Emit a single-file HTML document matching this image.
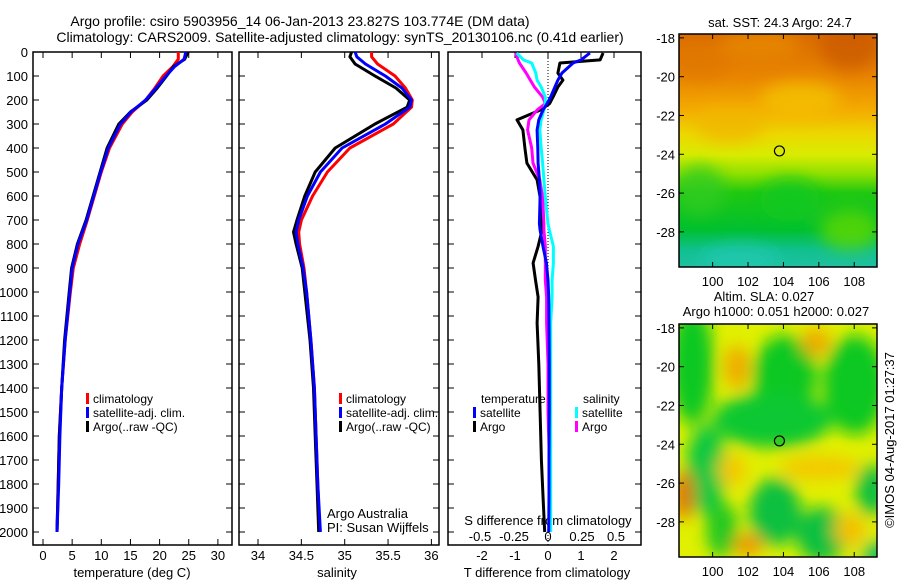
<!DOCTYPE html>
<html><head><meta charset="utf-8"><style>
html,body{margin:0;padding:0;background:#fff;}
svg{display:block;font-family:"Liberation Sans",sans-serif;}
text{fill:#000;}
</style></head><body>
<svg id="fig" width="900" height="580" viewBox="0 0 900 580" xmlns="http://www.w3.org/2000/svg">
<defs>
<filter id="blur" x="-50%" y="-50%" width="200%" height="200%"><feGaussianBlur stdDeviation="8"/></filter>
<clipPath id="clipTop"><rect x="679" y="34" width="198" height="233"/></clipPath>
<clipPath id="clipBot"><rect x="679" y="324" width="198" height="233"/></clipPath>
<linearGradient id="sstGrad" x1="0" y1="0" x2="0" y2="1">
<stop offset="0" stop-color="#d86a00"/><stop offset="0.18" stop-color="#e88400"/><stop offset="0.33" stop-color="#f4ac00"/>
<stop offset="0.43" stop-color="#ecd800"/><stop offset="0.52" stop-color="#d8ec00"/><stop offset="0.6" stop-color="#90e000"/>
<stop offset="0.68" stop-color="#20c810"/><stop offset="0.84" stop-color="#00c030"/><stop offset="0.93" stop-color="#10c090"/><stop offset="1" stop-color="#20c0a0"/>
</linearGradient>
</defs>
<text x="300" y="26" font-size="14" text-anchor="middle">Argo profile: csiro 5903956_14 06-Jan-2013 23.827S 103.774E (DM data)</text>
<text x="340" y="42" font-size="14" text-anchor="middle">Climatology: CARS2009. Satellite-adjusted climatology: synTS_20130106.nc (0.41d earlier)</text>
<g id="g"></g>
</svg>
<script>
// ---- data ----
const depthT = [0,30,60,100,150,200,250,300,400,500,600,700,800,900,1000,1200,1400,1600,1800,2000];
const tempClim = [23.2,23.2,22.3,20.6,19.2,17.6,15.3,13.6,11.4,10.0,8.8,7.6,6.3,5.2,4.7,3.8,3.2,2.8,2.6,2.4];
const tempSat  = [24.5,24.2,22.6,21.1,19.4,17.6,15.1,13.3,11.2,9.9,8.7,7.5,6.0,5.0,4.6,3.8,3.2,2.9,2.7,2.4];
const tempArgo = [24.9,24.3,22.4,21.2,19.6,17.8,15.0,13.0,11.0,9.8,8.6,7.4,5.9,4.9,4.5,3.7,3.2,2.8,2.6,2.4];
const depthS = [0,20,50,100,150,200,230,300,400,500,600,700,750,800,900,1000,1200,1400,1600,1800,2000];
const salClim = [35.31,35.31,35.38,35.58,35.70,35.78,35.77,35.56,35.06,34.80,34.63,34.50,34.47,34.48,34.53,34.56,34.61,34.65,34.67,34.69,34.71];
const salSat  = [35.12,35.14,35.24,35.47,35.66,35.77,35.75,35.47,34.97,34.72,34.57,34.47,34.44,34.46,34.52,34.56,34.61,34.65,34.67,34.69,34.72];
const salArgo = [35.08,35.06,35.12,35.35,35.59,35.75,35.72,35.35,34.89,34.66,34.54,34.45,34.41,34.44,34.51,34.54,34.60,34.64,34.66,34.68,34.70];
const depthD = [4,33,46,88,117,146,188,215,242,283,325,400,463,533,604,715,742,810,879,950,1021,1129,1300,1500,1700,1850,2000];
const dTArgo = [1.67,1.58,0.36,0.30,0.45,0.30,0.15,0.05,-0.24,-0.94,-0.76,-0.70,-0.64,-0.33,-0.24,-0.20,-0.18,-0.30,-0.45,-0.38,-0.30,-0.33,-0.28,-0.24,-0.20,-0.15,-0.10];
const dTSat  = [1.27,1.00,0.76,0.42,0.30,0.21,0.08,-0.03,-0.15,-0.28,-0.33,-0.31,-0.30,-0.26,-0.24,-0.26,-0.24,-0.15,-0.05,0.00,0.02,0.03,0.04,0.04,0.03,0.03,0.02];
const dSSat  = [-0.23,-0.18,-0.12,-0.09,-0.08,-0.05,-0.02,-0.02,-0.03,-0.05,-0.06,-0.05,-0.04,-0.03,-0.02,0.00,0.01,0.04,0.04,0.03,0.03,0.02,0.02,0.02,0.02,0.02,0.02];
const dSArgo = [-0.24,-0.22,-0.21,-0.16,-0.13,-0.10,-0.04,-0.02,-0.08,-0.14,-0.15,-0.12,-0.11,-0.06,-0.04,-0.03,-0.03,-0.02,-0.02,-0.02,-0.01,-0.01,0.00,0.00,0.01,0.01,0.01];
const depthTicks = [0,100,200,300,400,500,600,700,800,900,1000,1100,1200,1300,1400,1500,1600,1700,1800,1900,2000];
const tempTicks = [0,5,10,15,20,25,30];
const salTicks = [34,34.5,35,35.5,36];
const tdTicks = [-2,-1,0,1,2];
const sdTicks = [-0.5,-0.25,0,0.25,0.5];
const latTicks = [-18,-20,-22,-24,-26,-28];
const lonTicks = [100,102,104,106,108];
const floatLon = 103.774, floatLat = -23.827;

// ---- axes ----
const yD = d => 52 + d*0.24;
const xT = t => 43 + t*5.83;
const xS = s => 258 + (s-34)*86.7;
const xTD = v => 548 + v*33;
const xSD = v => 548 + v*136;
const mx = lon => 679 + (lon-98.1)*17.7;
const myTop = lat => 34 + (-17.8-lat)*19.4;
const myBot = lat => 324 + (-17.8-lat)*19.4;

const NS = "http://www.w3.org/2000/svg";
const G = document.getElementById('g');
function mk(tag, attrs, parent){const e=document.createElementNS(NS,tag);for(const k in attrs)e.setAttribute(k,attrs[k]);(parent||G).appendChild(e);return e;}
function txt(x,y,s,size,anchor,parent){const e=mk('text',{x:x,y:y,'font-size':size,'text-anchor':anchor||'middle'},parent);e.textContent=s;return e;}

const panels=[[33,232,'temperature-panel'],[239,439,'salinity-panel'],[448,641,'difference-panel']];
panels.forEach(p=>{
  const r=mk('rect',{x:p[0],y:52,width:p[1]-p[0],height:493,fill:'none',stroke:'#000','stroke-width':1.5});
  
  
  depthTicks.forEach(d=>{
    mk('line',{x1:p[0],x2:p[0]+6,y1:yD(d),y2:yD(d),stroke:'#000'});
    mk('line',{x1:p[1],x2:p[1]-6,y1:yD(d),y2:yD(d),stroke:'#000'});
  });
});
depthTicks.forEach(d=>{
  const t=txt(28,yD(d)+5,String(d),13,'end');
  
  
});
tempTicks.forEach(v=>{
  mk('line',{x1:xT(v),x2:xT(v),y1:52,y2:58,stroke:'#000'});
  mk('line',{x1:xT(v),x2:xT(v),y1:545,y2:539,stroke:'#000'});
  const t=txt(xT(v),560,String(v),13);
  
  
});
salTicks.forEach(v=>{
  mk('line',{x1:xS(v),x2:xS(v),y1:52,y2:58,stroke:'#000'});
  mk('line',{x1:xS(v),x2:xS(v),y1:545,y2:539,stroke:'#000'});
  const t=txt(xS(v),560,String(v),13);
  
  
});
tdTicks.forEach(v=>{
  mk('line',{x1:xTD(v),x2:xTD(v),y1:52,y2:58,stroke:'#000'});
  const t=txt(xTD(v),560,String(v),13);
  
  
});
sdTicks.forEach(v=>{
  const t=txt(xSD(v),541,String(v),13);
  
  
});
let e;
e=txt(132,577,'temperature (deg C)',13);
e=txt(337,577,'salinity',13);
e=txt(547,577,'T difference from climatology',13);
e=txt(548,525,'S difference from climatology',13);
e=txt(327,518,'Argo Australia',13,'start');
e=txt(327,532,'PI: Susan Wijffels',13,'start');
e=mk('line',{x1:548,x2:548,y1:52,y2:545,stroke:'#000','stroke-dasharray':'1,2'});


function line(xs,ds,xf,color,name){
  const pts=xs.map((v,i)=>xf(v).toFixed(1)+','+yD(ds[i]).toFixed(1)).join(' ');
  const p=mk('polyline',{points:pts,fill:'none',stroke:color,'stroke-width':3,'stroke-linejoin':'round'});
  
  
}
line(tempClim,depthT,xT,'#ff0000','temp-climatology-line');
line(tempArgo,depthT,xT,'#000000','temp-argo-line');
line(tempSat,depthT,xT,'#0000ff','temp-satellite-line');
line(salClim,depthS,xS,'#ff0000','sal-climatology-line');
line(salArgo,depthS,xS,'#000000','sal-argo-line');
line(salSat,depthS,xS,'#0000ff','sal-satellite-line');
line(dTArgo,depthD,xTD,'#000000','t-diff-argo-line');
line(dSArgo,depthD,xSD,'#ff00ff','s-diff-argo-line');
line(dSSat,depthD,xSD,'#00ffff','s-diff-satellite-line');
line(dTSat,depthD,xTD,'#0000ff','t-diff-satellite-line');

function legend(x,y,color,label,name){
  const r=mk('rect',{x:x,y:y-10,width:3,height:11,fill:color});
  
  
  const t=txt(x+7,y,label,12,'start');
  
  
}
[86,339].forEach(x=>{
  legend(x,403,'#ff0000','climatology','legend-climatology');
  legend(x,417,'#0000ff','satellite-adj. clim.','legend-satellite-adj');
  legend(x,431,'#000000','Argo(..raw -QC)','legend-argo');
});
e=txt(481,403,'temperature',12,'start');
e=txt(583,403,'salinity',12,'start');
legend(473,417,'#0000ff','satellite','legend-t-satellite');
legend(473,431,'#000000','Argo','legend-t-argo');
legend(575,417,'#00ffff','satellite','legend-s-satellite');
legend(575,431,'#ff00ff','Argo','legend-s-argo');

function mapAxes(top,myf,name){
  const r=mk('rect',{x:679,y:top,width:198,height:233,fill:'none',stroke:'#000','stroke-width':1.5});
  
  
  latTicks.forEach(l=>{
    mk('line',{x1:679,x2:684,y1:myf(l),y2:myf(l),stroke:'#000'});
    mk('line',{x1:877,x2:872,y1:myf(l),y2:myf(l),stroke:'#000'});
    const t=txt(675,myf(l)+5,String(l),13,'end');
    
    
  });
  lonTicks.forEach(l=>{
    mk('line',{x1:mx(l),x2:mx(l),y1:top,y2:top+5,stroke:'#000'});
    mk('line',{x1:mx(l),x2:mx(l),y1:top+233,y2:top+228,stroke:'#000'});
    const t=txt(mx(l),top+252,String(l),13);
    
    
  });
}
const gs=mk('g',{'clip-path':'url(#clipTop)'});

mk('rect',{x:679,y:34,width:198,height:233,fill:'url(#sstGrad)'},gs);
const gsb=mk('g',{filter:'url(#blur)'},gs);
[[700,60,30,18,'#e07800'],[850,45,30,25,'#cc5a00'],[760,45,40,15,'#e88a00'],[800,100,40,18,'#f4c000'],
 [730,125,35,18,'#f0b800'],[790,200,30,22,'#10c820'],[700,190,25,25,'#30cc20'],[850,230,30,20,'#60d800'],[740,260,40,15,'#20c8b0']]
 .forEach(b=>mk('ellipse',{cx:b[0],cy:b[1],rx:b[2],ry:b[3],fill:b[4],opacity:0.8},gsb));
const gl=mk('g',{'clip-path':'url(#clipBot)'});

mk('rect',{x:679,y:324,width:198,height:233,fill:'#e0f000'},gl);
const glb=mk('g',{filter:'url(#blur)'},gl);
[[692,365,22,60,'#10c820'],[785,375,32,40,'#10c820'],[772,420,60,28,'#10c830'],[855,385,32,50,'#10c820'],
 [706,470,20,45,'#10c840'],[775,512,26,34,'#10c040'],[822,535,26,28,'#10c040'],[872,490,16,26,'#10c040'],[722,530,16,28,'#20c820'],[880,555,18,14,'#10c060'],
 [684,495,10,25,'#e07000'],[737,367,12,22,'#f0a800'],[816,342,14,14,'#f0a800'],[748,545,15,10,'#f09000'],[820,468,40,12,'#f4c800'],[732,470,14,16,'#f4c800'],[850,530,16,16,'#f4c000']]
 .forEach(b=>mk('ellipse',{cx:b[0],cy:b[1],rx:b[2],ry:b[3],fill:b[4]},glb));
mapAxes(34,myTop,'sst-map');
mapAxes(324,myBot,'sla-map');
e=mk('circle',{cx:mx(floatLon),cy:myTop(floatLat),r:5,fill:'none',stroke:'#000','stroke-width':1.2});

e=mk('circle',{cx:mx(floatLon),cy:myBot(floatLat),r:5,fill:'#30cc20',stroke:'#000','stroke-width':1.2});

e=txt(780,27,'sat. SST: 24.3 Argo: 24.7',13);
e=txt(764,301,'Altim. SLA: 0.027',13);
e=txt(776,316,'Argo h1000: 0.051 h2000: 0.027',13);
e=txt(0,0,'©IMOS 04-Aug-2017 01:27:37',13);
e.setAttribute('transform','translate(894,440) rotate(-90)');

</script>
</body></html>
